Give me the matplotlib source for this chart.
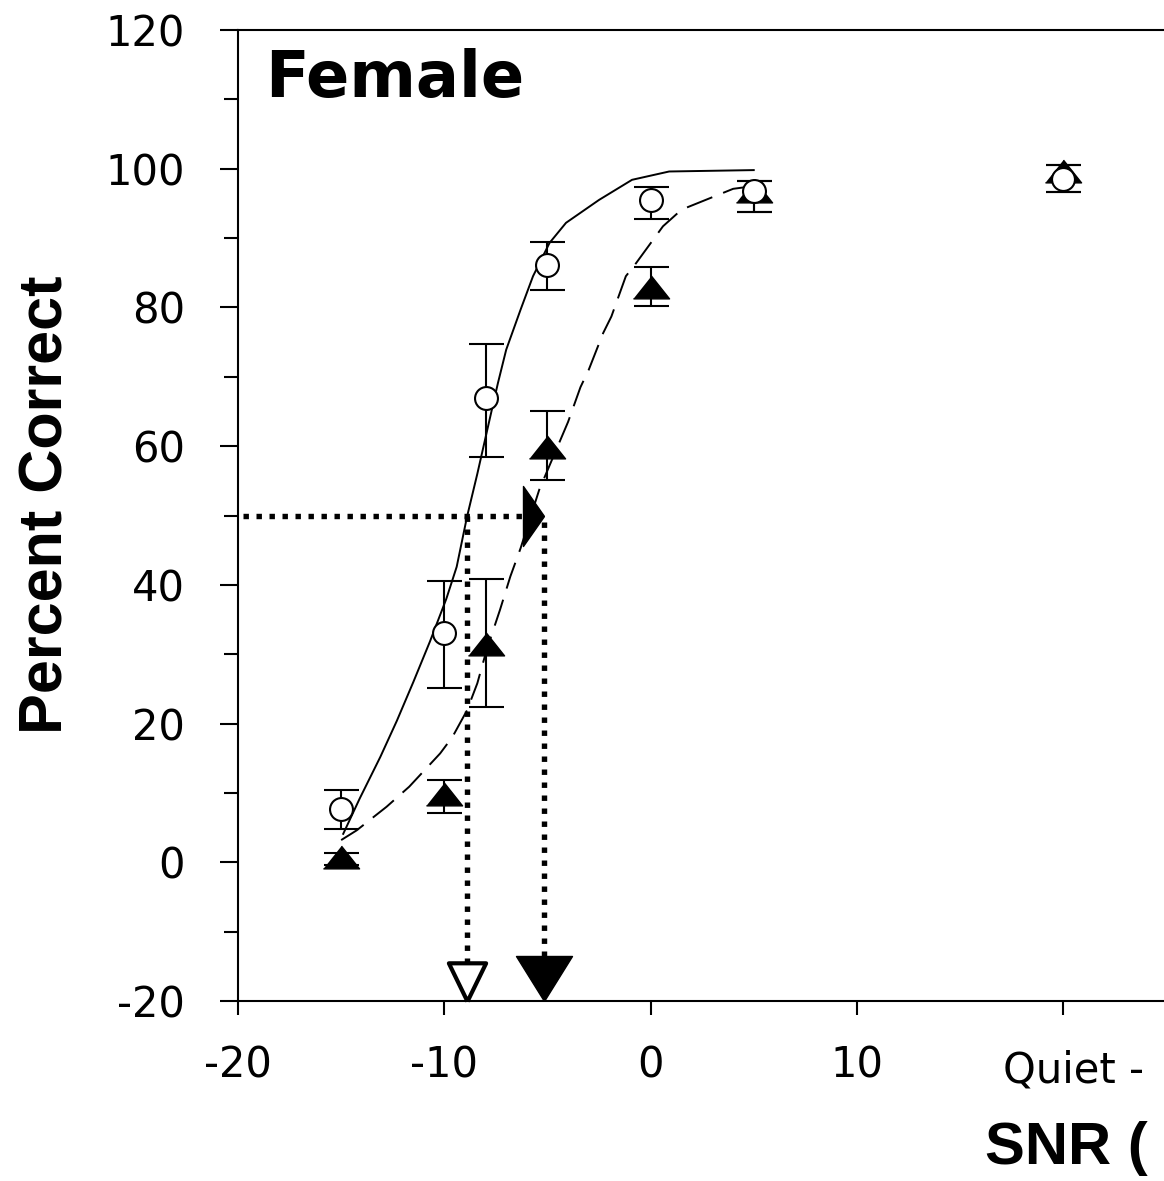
import matplotlib
matplotlib.use("Agg")
import matplotlib.pyplot as plt
from matplotlib.ticker import MultipleLocator, FixedLocator

plt.rcParams["axes.unicode_minus"] = False

# ---------------- data ----------------
snr = [-15, -10, -8, -5, 0, 5, 20]          # 20 = "Quiet"
circle_pc = [7.7, 33.0, 66.9, 86.1, 95.5, 96.8, 98.5]
circle_lo = [2.9, 7.8, 8.4, 3.6, 2.8, 3.1, 1.9]
circle_hi = [2.7, 7.5, 7.8, 3.4, 1.9, 1.5, 2.1]
tri_pc = [0.8, 9.9, 31.5, 59.9, 83.0, 96.8, 99.6]
tri_lo = [1.2, 2.8, 9.1, 4.8, 2.8, 3.1, 3.0]
tri_hi = [0.6, 1.9, 9.4, 5.1, 2.8, 1.5, 1.0]

fit_solid_x = [-14.9, -14.1, -13.1, -12.3, -11.5, -10.7, -9.9, -9.4, -8.9, -8.4,
               -7.7, -7.4, -7.0, -6.3, -5.7, -4.9, -4.1, -2.5, -0.9, 0.9, 5.0]
fit_solid_y = [4.1, 9.2, 15.2, 20.4, 26.0, 31.8, 38.0, 42.6, 49.8, 56.0,
               65.2, 69.1, 73.9, 79.7, 84.5, 89.3, 92.2, 95.5, 98.4, 99.6, 99.8]
fit_dash_x = [-15.0, -14.25, -12.8, -11.7, -10.2, -9.6, -8.9, -8.4, -7.95, -7.3,
              -6.8, -6.3, -5.4, -4.0, -3.4, -3.0, -2.3, -1.9, -1.2, -0.7, 0.6, 1.5, 4.0, 5.0]
fit_dash_y = [3.2, 4.6, 8.0, 10.9, 15.7, 18.1, 21.9, 25.8, 30.6, 36.4,
              41.2, 45.3, 53.7, 63.5, 68.5, 71.0, 76.3, 78.7, 84.5, 86.4, 91.7, 94.1, 97.1, 97.5]

threshold_pc = 50
thresholds = [-8.9, -5.15]          # open (circles) , filled (triangles)

xticks = [-20, -10, 0, 10, 20]
xticklabels = ["-20", "-10", "0", "10", ""]
quiet_label = "Quiet -"
yticks = [-20, 0, 20, 40, 60, 80, 100, 120]

# ---------------- figure ----------------
W, H, DPI = 1164, 1181, 100
fig = plt.figure(figsize=(W / DPI, H / DPI), dpi=DPI)
ax_left, ax_bottom, ax_top = 238 / W, (H - 1001) / H, (H - 30) / H
ax_w = (50 * 20.63) / W
ax = fig.add_axes([ax_left, ax_bottom, ax_w, ax_top - ax_bottom])
ax.set_xlim(-20, 30)
ax.set_ylim(-20, 120)

LW = 1.5
for s in ["left", "top", "bottom", "right"]:
    ax.spines[s].set_linewidth(LW)

# fitted curves
ax.plot(fit_solid_x, fit_solid_y, color="black", lw=1.4, zorder=2)
ax.plot(fit_dash_x, fit_dash_y, color="black", lw=1.4, dashes=(14, 6), zorder=2)

# error bars
ax.errorbar(snr, circle_pc, yerr=[circle_lo, circle_hi], fmt="none", ecolor="black",
            elinewidth=1.5, capsize=12.6, capthick=1.5, zorder=3)
ax.errorbar(snr, tri_pc, yerr=[tri_lo, tri_hi], fmt="none", ecolor="black",
            elinewidth=1.5, capsize=12.6, capthick=1.5, zorder=3)

# markers
tri_marker = [(-1, -0.63), (1, -0.63), (0, 0.63)]
ax.plot(snr, tri_pc, linestyle="none", marker=tri_marker, ms=26, color="black", zorder=4)
ax.plot(snr, circle_pc, linestyle="none", marker="o", ms=16.5, mfc="white", mec="black",
        mew=1.5, zorder=5)

# dotted threshold guides
dot = dict(color="black", lw=3.9, linestyle=(0, (1, 1.4)), dash_capstyle="butt", zorder=6)
ax.plot([-19.75, -6.0], [threshold_pc, threshold_pc], **dot)
ax.plot([thresholds[0], thresholds[0]], [threshold_pc, -14.5], **dot)
ax.plot([thresholds[1], thresholds[1]], [threshold_pc - 1, -14.0], **dot)

# arrow heads
right_arrow = [(0, 0), (-21, 30), (-21, -30), (0, 0)]
ax.plot([thresholds[1]], [threshold_pc], linestyle="none", marker=right_arrow, ms=43.2,
        color="black", zorder=7, clip_on=False)
open_down = [(0, 0), (-19.5, 40), (19.5, 40), (0, 0)]
ax.plot([thresholds[0]], [-20], linestyle="none", marker=open_down, ms=55,
        mfc="white", mec="black", mew=3, zorder=7, clip_on=False)
filled_down = [(0, 0), (-28, 45), (28, 45), (0, 0)]
ax.plot([thresholds[1]], [-20], linestyle="none", marker=filled_down, ms=64.8,
        color="black", zorder=7, clip_on=False)

# ticks
ax.xaxis.set_major_locator(FixedLocator(xticks))
ax.set_xticklabels(xticklabels)
ax.yaxis.set_major_locator(FixedLocator(yticks))
ax.yaxis.set_minor_locator(MultipleLocator(10))
ax.tick_params(axis="y", which="major", length=13, width=1.5, direction="out", pad=25,
               labelsize=30)
ax.tick_params(axis="y", which="minor", length=10, width=1.5, direction="out")
ax.tick_params(axis="x", which="major", length=10, width=1.5, direction="out", pad=21,
               labelsize=30)
ax.tick_params(top=False, right=False)
for lab in ax.get_xticklabels() + ax.get_yticklabels():
    lab.set_family("DejaVu Sans")

# "Quiet" label (as much as is visible in the reference)
fig.text(1003 / W, (H - 1083) / H, quiet_label, fontsize=30, family="DejaVu Sans",
         ha="left", va="baseline")

# texts
fig.text(265 / W, (H - 97) / H, "Female", fontsize=46, fontweight="bold",
         family="DejaVu Sans", ha="left", va="baseline")
fig.text(47 / W, (H - 505) / H, "Percent Correct", fontsize=44, fontweight="bold",
         family="Liberation Sans", rotation=90, ha="center", va="center")
fig.text(985 / W, (H - 1164) / H, "SNR (", fontsize=43, fontweight="bold",
         family="Liberation Sans", ha="left", va="baseline")

fig.savefig("out.png", dpi=DPI)
